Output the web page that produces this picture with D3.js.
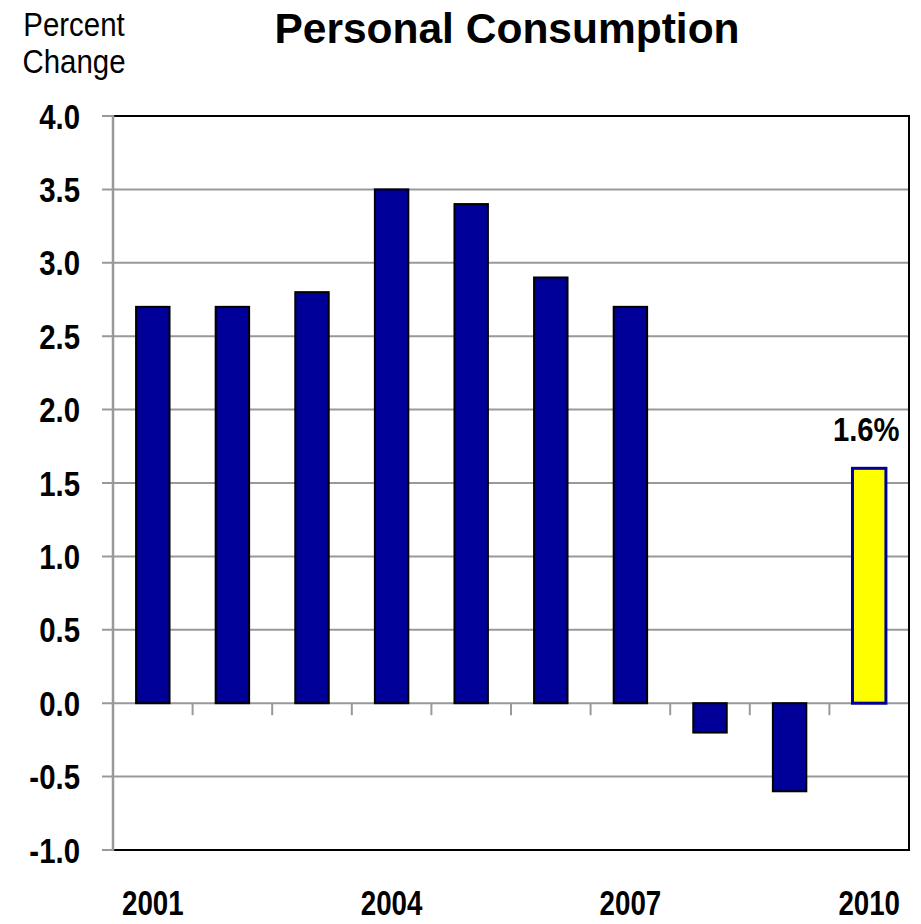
<!DOCTYPE html>
<html>
<head>
<meta charset="utf-8">
<script src="https://cdn.jsdelivr.net/npm/d3@7"></script>
<style>
  html, body { margin: 0; padding: 0; background: #ffffff; }
  svg { display: block; }
</style>
</head>
<body>
<script>
// ---- data ----
const years = ["2001","2002","2003","2004","2005","2006","2007","2008","2009","2010"];
const values = [2.7, 2.7, 2.8, 3.5, 3.4, 2.9, 2.7, -0.2, -0.6, 1.6];
const highlightYear = "2010";
const highlightLabel = "1.6%";
const yTicks = [-1.0, -0.5, 0.0, 0.5, 1.0, 1.5, 2.0, 2.5, 3.0, 3.5, 4.0];
const xLabelYears = ["2001","2004","2007","2010"];
const title = "Personal Consumption";
const yTitle = ["Percent", "Change"];

// ---- layout ----
const W = 921, H = 924;
const L = 113, R = 909, T = 116, B = 850;
const navy = "#000099", yellow = "#FFFF00", grid = "#999999";

const svg = d3.select("body").append("svg").attr("width", W).attr("height", H);

const x = d3.scaleBand().domain(years).range([L, R]).paddingInner(0.58).paddingOuter(0.29);
const xb = d3.scaleBand().domain(years).range([L, R]);
const y = d3.scaleLinear().domain([-1, 4]).range([B, T]);

// gridlines + y ticks
svg.append("g").selectAll("line").data(yTicks.filter(v => v !== 4 && v !== -1)).join("line")
  .attr("x1", L - 11).attr("x2", R).attr("y1", d => y(d)).attr("y2", d => y(d))
  .attr("stroke", grid).attr("stroke-width", 2);
// tick stubs for 4.0 and -1.0
svg.append("g").selectAll("line").data([4, -1]).join("line")
  .attr("x1", L - 11).attr("x2", L).attr("y1", d => y(d)).attr("y2", d => y(d))
  .attr("stroke", grid).attr("stroke-width", 2);

// x ticks at band boundaries on zero line
svg.append("g").selectAll("line").data(years.slice(1)).join("line")
  .attr("x1", d => xb(d)).attr("x2", d => xb(d))
  .attr("y1", y(0)).attr("y2", y(0) + 12)
  .attr("stroke", grid).attr("stroke-width", 2);

// frame: top, right, bottom black; left gray
svg.append("path")
  .attr("d", `M${L},${T}H${R}V${B}H${L}`)
  .attr("fill", "none").attr("stroke", "#000").attr("stroke-width", 2);
svg.append("line").attr("x1", L).attr("x2", L).attr("y1", T - 1).attr("y2", B + 1)
  .attr("stroke", grid).attr("stroke-width", 2.5);

// bars
svg.append("g").selectAll("rect").data(years.map((d, i) => ({ year: d, v: values[i] }))).join("rect")
  .attr("x", d => x(d.year))
  .attr("width", x.bandwidth())
  .attr("y", d => y(Math.max(0, d.v)))
  .attr("height", d => Math.abs(y(d.v) - y(0)))
  .attr("fill", d => d.year === highlightYear ? yellow : navy)
  .attr("stroke", d => d.year === highlightYear ? navy : "#000")
  .attr("stroke-width", d => d.year === highlightYear ? 3 : 2);

// y tick labels
svg.append("g").selectAll("text").data(yTicks).join("text")
  .attr("transform", d => `translate(80,${y(d) + 12.5}) scale(0.84,1)`)
  .attr("text-anchor", "end")
  .attr("font-family", "Liberation Sans, Arial, sans-serif")
  .attr("font-size", 35).attr("font-weight", 700)
  .text(d => d.toFixed(1));

// x labels
svg.append("g").selectAll("text").data(xLabelYears).join("text")
  .attr("transform", d => `translate(${x(d) + x.bandwidth() / 2},915) scale(0.84,1.05)`)
  .attr("text-anchor", "middle")
  .attr("font-family", "Liberation Sans, Arial, sans-serif")
  .attr("font-size", 33).attr("font-weight", 700)
  .text(d => d);

// highlight label
const hv = values[years.indexOf(highlightYear)];
svg.append("text")
  .attr("transform", `translate(${x(highlightYear) + x.bandwidth() / 2 - 3},${y(hv) - 27}) scale(0.86,1)`)
  .attr("text-anchor", "middle")
  .attr("font-family", "Liberation Sans, Arial, sans-serif")
  .attr("font-size", 34).attr("font-weight", 700)
  .text(highlightLabel);

// title
svg.append("text")
  .attr("x", 507).attr("y", 43)
  .attr("text-anchor", "middle")
  .attr("font-family", "Liberation Sans, Arial, sans-serif")
  .attr("font-size", 42.5).attr("font-weight", 700)
  .text(title);

// y title
svg.append("g").selectAll("text").data(yTitle).join("text")
  .attr("transform", (d, i) => `translate(74,${36 + i * 37}) scale(0.95,1.08)`)
  .attr("text-anchor", "middle")
  .attr("font-family", "Liberation Sans, Arial, sans-serif")
  .attr("font-size", 31)
  .text(d => d);
</script>
</body>
</html>
